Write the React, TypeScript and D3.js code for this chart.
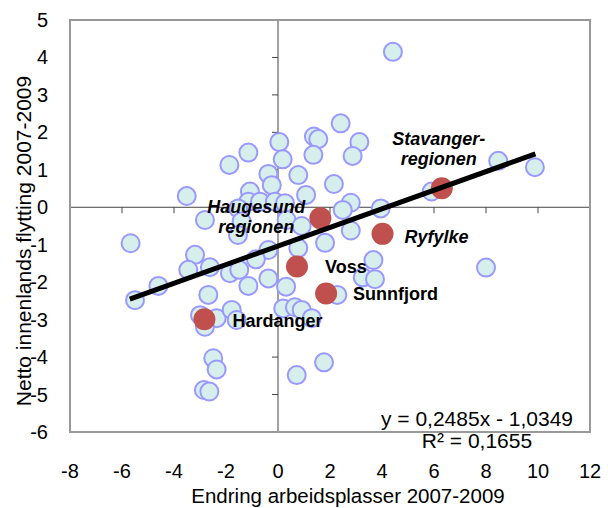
import React from "react";
import * as d3 from "d3";

const xTicks = [-8, -6, -4, -2, 0, 2, 4, 6, 8, 10, 12];
const yTicks = [5, 4, 3, 2, 1, 0, -1, -2, -3, -4, -5, -6];

const blueX = [4.42, 2.41, 0.05, 1.38, 1.55, 3.13, -1.14, -1.87, 0.18, 1.36, 2.87, -0.37, 0.78, 2.15, -0.24, -3.51, -1.08, 1.08, -1.14, -0.69, -0.12, 0.27, 2.8, 2.49, 3.95, -1.53, -2.81, -1.4, 0.33, 0.91, 2.8, -1.54, 1.81, 0.78, -0.37, -0.85, 3.67, 3.26, 3.73, -5.67, -3.19, -3.45, -2.62, -1.85, -1.49, -1.14, -0.37, 0.31, -4.6, -5.5, -2.68, 2.28, 8.0, -3.0, -2.36, -1.78, -1.59, -2.81, 0.2, 0.65, 0.91, 1.3, -2.49, -2.36, -2.85, -2.64, 0.72, 1.77, 8.47, 9.88, 5.91];
const blueY = [4.15, 2.24, 1.74, 1.89, 1.82, 1.74, 1.46, 1.13, 1.28, 1.4, 1.37, 0.89, 0.86, 0.62, 0.59, 0.3, 0.42, 0.33, 0.15, 0.15, 0.15, 0.11, 0.12, -0.07, -0.03, -0.03, -0.34, -0.38, -0.34, -0.5, -0.62, -0.74, -0.95, -1.09, -1.14, -1.39, -1.41, -1.87, -1.92, -0.96, -1.27, -1.67, -1.6, -1.76, -1.67, -2.1, -1.9, -2.12, -2.1, -2.48, -2.34, -2.34, -1.61, -2.88, -2.96, -2.74, -3.01, -3.19, -2.7, -2.67, -2.74, -2.96, -4.03, -4.33, -4.88, -4.92, -4.48, -4.14, 1.24, 1.07, 0.42];

const regionNames = ["Stavanger-regionen", "Haugesund regionen", "Ryfylke", "Voss", "Sunnfjord", "Hardanger"];
const regionX = [6.3, 1.63, 4.02, 0.73, 1.85, -2.83];
const regionY = [0.51, -0.29, -0.71, -1.58, -2.3, -2.99];

const slope = 0.2485;
const intercept = -1.0349;
const trendRange = [-5.7, 9.9];
const equationText = "y = 0,2485x - 1,0349";
const r2Text = "R² = 0,1655";
const xTitle = "Endring arbeidsplasser 2007-2009";
const yTitle = "Netto innenlands flytting 2007-2009";

// label layout relative to each red point
const labelLayout = [
  { lines: ["Stavanger-", "regionen"], dx: -3, dy: -43, anchor: "middle", italic: true },
  { lines: ["Haugesund", "regionen"], dx: -64, dy: -5, anchor: "middle", italic: true },
  { lines: ["Ryfylke"], dx: 22, dy: 9, anchor: "start", italic: true },
  { lines: ["Voss"], dx: 28, dy: 7, anchor: "start", italic: false },
  { lines: ["Sunnfjord"], dx: 27, dy: 7, anchor: "start", italic: false },
  { lines: ["Hardanger"], dx: 28, dy: 8, anchor: "start", italic: false },
];

const FONT = "'Liberation Sans', Arial, sans-serif";

export default function App() {
  const W = 608, H = 508;
  const x = d3.scaleLinear().domain([-8, 12]).range([70, 590]);
  const y = d3.scaleLinear().domain([-6, 5]).range([432, 20]);
  const x0 = x(0), y0 = y(0);
  const line = d3.line<number>().x((d) => x(d)).y((d) => y(slope * d + intercept));

  return (
    <svg width={W} height={H} style={{ position: "absolute", left: 0, top: 0, background: "#fff" }} fontFamily={FONT}>
      <rect x={0} y={0} width={W} height={H} fill="#fff" />
      <line x1={x(-8)} x2={x(12)} y1={y0} y2={y0} stroke="#444" strokeWidth={1} />
      <line x1={x0} x2={x0} y1={y(5)} y2={y(-6)} stroke="#444" strokeWidth={1} />
      {xTicks.map((t) => (
        <line key={"xt" + t} x1={x(t)} x2={x(t)} y1={y0} y2={y0 + 6} stroke="#444" strokeWidth={1} />
      ))}
      {yTicks.map((t) => (
        <line key={"yt" + t} x1={x0 - 6} x2={x0} y1={y(t)} y2={y(t)} stroke="#444" strokeWidth={1} />
      ))}
      {blueX.map((bx, i) => (
        <circle key={"b" + i} cx={x(bx)} cy={y(blueY[i])} r={9} fill="#d6eeec" stroke="#9999ff" strokeWidth={2} />
      ))}
      {regionX.map((rx, i) => (
        <circle key={"r" + i} cx={x(rx)} cy={y(regionY[i])} r={11} fill="#c0504d" />
      ))}
      <path d={line(trendRange) || ""} stroke="#000" strokeWidth={5} fill="none" />
      <rect x={x(-8)} y={y(5)} width={x(12) - x(-8)} height={y(-6) - y(5)} fill="none" stroke="#999" strokeWidth={2} />
      {regionNames.map((name, i) => {
        const L = labelLayout[i];
        const px = x(regionX[i]) + L.dx;
        const py = y(regionY[i]) + L.dy;
        return (
          <text key={"l" + i} x={px} y={py} textAnchor={L.anchor} fontSize={18} fontWeight="bold" fontStyle={L.italic ? "italic" : "normal"} fill="#000">
            {L.lines.map((s, j) => (
              <tspan key={j} x={px} dy={j === 0 ? 0 : 20}>{s}</tspan>
            ))}
          </text>
        );
      })}
      {xTicks.map((t) => (
        <text key={"xl" + t} x={x(t)} y={478} textAnchor="middle" fontSize={20} fill="#000">{t}</text>
      ))}
      {yTicks.map((t) => (
        <text key={"yl" + t} x={48} y={y(t) + 7} textAnchor="end" fontSize={20} fill="#000">{t}</text>
      ))}
      <text x={477} y={426} textAnchor="middle" fontSize={21} fill="#000">{equationText}</text>
      <text x={477} y={448} textAnchor="middle" fontSize={21} fill="#000">{r2Text}</text>
      <text x={348} y={503} textAnchor="middle" fontSize={20.5} fill="#000">{xTitle}</text>
      <text transform={`translate(31, 241) rotate(-90)`} textAnchor="middle" fontSize={21} fill="#000">{yTitle}</text>
    </svg>
  );
}
